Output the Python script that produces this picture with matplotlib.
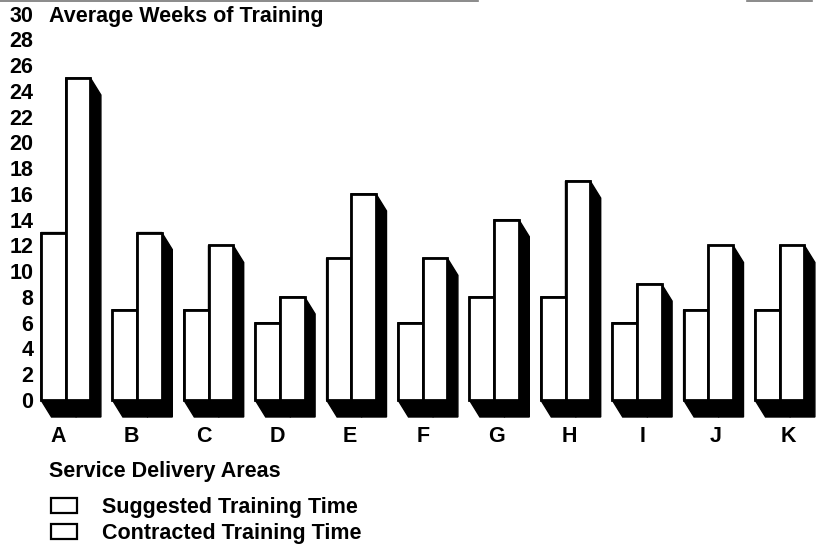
#!/usr/bin/env python3
"""
Average weeks of training per service delivery area (3D-style bars).
"""

import numpy as np
import matplotlib
matplotlib.use("Agg")
import matplotlib.pyplot as plt
from matplotlib.patches import Polygon, Rectangle, Patch
from matplotlib.lines import Line2D

# ---------------------------------------------------------------------
# DATA
# ---------------------------------------------------------------------
areas = ["A", "B", "C", "D", "E", "F", "G", "H", "I", "J", "K"]
suggested = [13, 7, 7, 6, 11, 6, 8, 8, 6, 7, 7]
contracted = [25, 13, 12, 8, 16, 11, 14, 17, 9, 12, 12]
yticks = list(range(0, 31, 2))

TITLE = "Average Weeks of Training"
XLABEL = "Service Delivery Areas"
LABELS = ["Suggested Training Time", "Contracted Training Time"]

# ---------------------------------------------------------------------
# LAYOUT (pixels of the 817x550 output)
# ---------------------------------------------------------------------
W, H = 817, 550
PX_X = 71.4        # pixels per group
PX_Y = 12.88       # pixels per week
X0_PX = 65.7       # pixel of group 0 centre
Y0_PX = 400        # pixel of value 0 (from top)
AX_LEFT, AX_RIGHT, AX_BOTTOM = 38, 817, 420

BAR_W = 24.7 / PX_X
DX = 10.5 / PX_X   # depth offset to the right
DY = 17 / PX_Y     # depth offset downwards

FONT = "Liberation Sans"
FS = 15.5
plt.rcParams["font.family"] = [FONT, "DejaVu Sans"]


def sweep(x0, x1, h):
    """Black depth shape of a bar pushed down-right."""
    return [(x0, h), (x1, h), (x1 + DX, h - DY), (x1 + DX, -DY),
            (x0 + DX, -DY), (x0, 0)]


def main():
    fig = plt.figure(figsize=(W / 100, H / 100), dpi=100)
    ax = fig.add_axes([AX_LEFT / W, (H - AX_BOTTOM) / H,
                       (AX_RIGHT - AX_LEFT) / W, AX_BOTTOM / H])
    ax.set_xlim((AX_LEFT - X0_PX) / PX_X, (AX_RIGHT - X0_PX) / PX_X)
    ax.set_ylim(-(AX_BOTTOM - Y0_PX) / PX_Y, Y0_PX / PX_Y)

    pos = np.arange(len(areas))

    # shadows first, then the white fronts
    for i, (s, c) in enumerate(zip(suggested, contracted)):
        for x0, h in ((i - BAR_W, s), (i, c)):
            ax.add_patch(Polygon(sweep(x0, x0 + BAR_W, h), closed=True,
                                 facecolor="black", edgecolor="black",
                                 lw=1, zorder=1, clip_on=False))
    for i, (s, c) in enumerate(zip(suggested, contracted)):
        for x0, h in ((i - BAR_W, s), (i, c)):
            ax.add_patch(Rectangle((x0, 0), BAR_W, h, facecolor="white",
                                   edgecolor="black", lw=2.0, zorder=2,
                                   joinstyle="miter", clip_on=False))

    for side in ax.spines.values():
        side.set_visible(False)

    ax.set_yticks(yticks)
    ax.set_yticklabels([str(v) for v in yticks], fontsize=FS,
                       fontweight="bold")
    ax.tick_params(axis="y", length=0, pad=3.5)

    ax.set_xticks(pos * 1.023 - 0.11)
    ax.set_xticklabels(areas, fontsize=FS, fontweight="bold")
    ax.tick_params(axis="x", length=0, pad=4.5)

    ax.text((49 - X0_PX) / PX_X, 30, TITLE, fontsize=FS, fontweight="bold",
            ha="left", va="center_baseline")
    ax.text((49 - X0_PX) / PX_X, (Y0_PX - 469) / PX_Y, XLABEL, fontsize=FS,
            fontweight="bold", ha="left", va="center_baseline")

    handles = [Patch(facecolor="white", edgecolor="black", lw=1.6)
               for _ in LABELS]
    fig.legend(handles, LABELS, loc="upper left",
               bbox_to_anchor=(51 / W, 1 - 497 / H),
               bbox_transform=fig.transFigure, frameon=False,
               prop={"family": FONT, "size": FS, "weight": "bold"},
               handlelength=1.2, handleheight=0.65, handletextpad=1.15,
               labelspacing=0.24, borderpad=0, borderaxespad=0)

    # faint scan edge along the top
    for a, b in ((0, 478), (747, 812)):
        fig.add_artist(Line2D([a / W, b / W], [1 - 0.8 / H, 1 - 0.8 / H],
                              color="#777777", lw=1.2,
                              transform=fig.transFigure))

    fig.savefig("out.png", dpi=100, facecolor="white")
    plt.close(fig)


if __name__ == "__main__":
    main()
